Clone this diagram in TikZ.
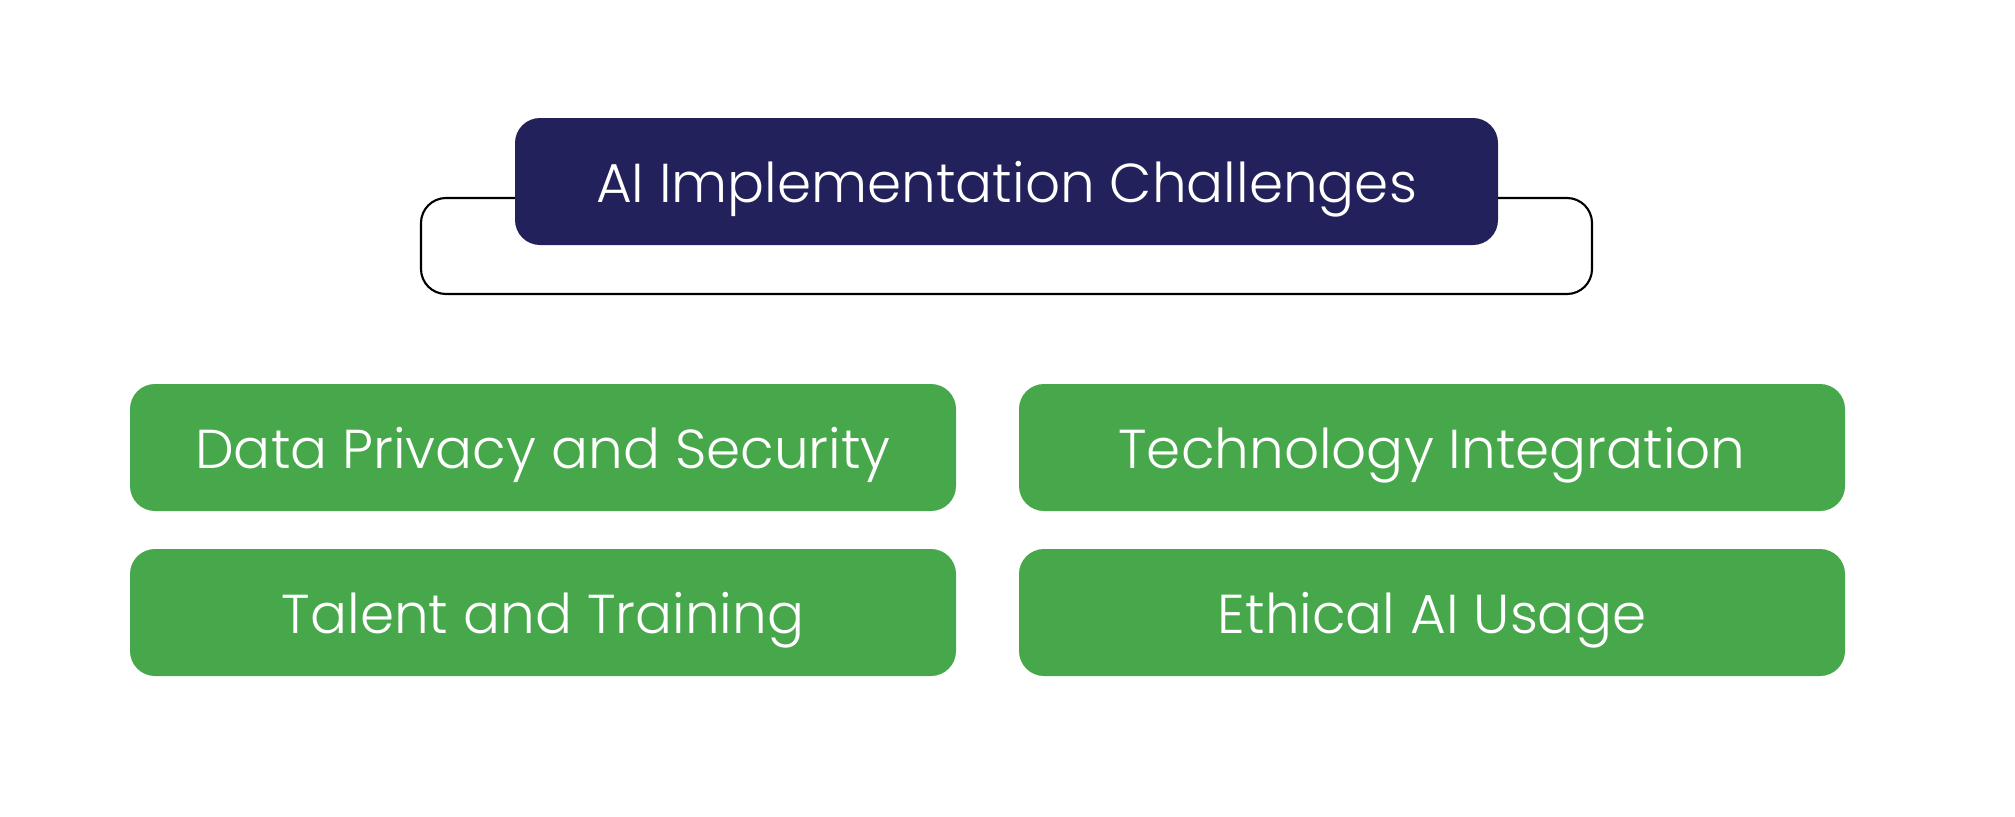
\documentclass[tikz,border=0pt]{standalone}
\usepackage{fontspec}
\setmainfont{Poppins Light}
\usetikzlibrary{positioning}
\definecolor{navy}{HTML}{23215B}
\definecolor{leafgreen}{HTML}{46A84A}
\tikzset{
  headbox/.style={fill=navy, rounded corners=0.25cm, minimum width=9.83cm,
    minimum height=1.27cm, text=white, inner sep=0pt, text depth=0pt},
  framebox/.style={draw=black, line width=0.6pt, rounded corners=0.25cm,
    minimum width=11.71cm, minimum height=0.96cm, inner sep=0pt},
  topicbox/.style={fill=leafgreen, rounded corners=0.25cm, minimum width=8.26cm,
    minimum height=1.27cm, text=white, inner sep=0pt, text depth=0pt}
}

\begin{document}
\begin{tikzpicture}[font=\fontsize{15.6}{19}\selectfont]
  \useasboundingbox (0,0) rectangle (20.15,8.16);

  \node[framebox](frame) at (10.065,5.70) {};
  \node[headbox](head) at (10.065,6.345) {AI Implementation Challenges};

  \foreach \N/\X/\Y/\T in {privacy/5.43/3.685/{Data Privacy and Security},
                           tech/14.32/3.685/{Technology Integration},
                           talent/5.43/2.035/{Talent and Training},
                           ethics/14.32/2.035/{Ethical AI Usage}
  } {
  \node[topicbox](\N) at (\X,\Y) {\T};
  }
\end{tikzpicture}
\end{document}
